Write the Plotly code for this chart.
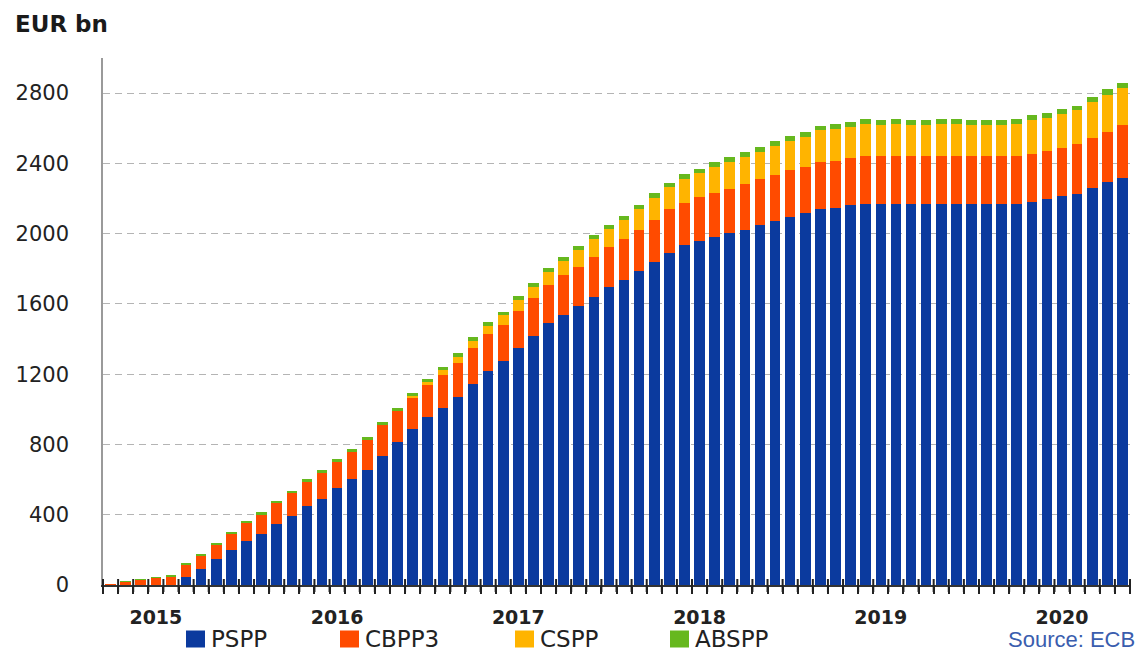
import plotly.graph_objects as go

# ---------------- data (EUR bn, end of month holdings) ----------------
months = [
    "Oct 2014", "Nov 2014", "Dec 2014",
    "Jan 2015", "Feb 2015", "Mar 2015", "Apr 2015", "May 2015", "Jun 2015",
    "Jul 2015", "Aug 2015", "Sep 2015", "Oct 2015", "Nov 2015", "Dec 2015",
    "Jan 2016", "Feb 2016", "Mar 2016", "Apr 2016", "May 2016", "Jun 2016",
    "Jul 2016", "Aug 2016", "Sep 2016", "Oct 2016", "Nov 2016", "Dec 2016",
    "Jan 2017", "Feb 2017", "Mar 2017", "Apr 2017", "May 2017", "Jun 2017",
    "Jul 2017", "Aug 2017", "Sep 2017", "Oct 2017", "Nov 2017", "Dec 2017",
    "Jan 2018", "Feb 2018", "Mar 2018", "Apr 2018", "May 2018", "Jun 2018",
    "Jul 2018", "Aug 2018", "Sep 2018", "Oct 2018", "Nov 2018", "Dec 2018",
    "Jan 2019", "Feb 2019", "Mar 2019", "Apr 2019", "May 2019", "Jun 2019",
    "Jul 2019", "Aug 2019", "Sep 2019", "Oct 2019", "Nov 2019", "Dec 2019",
    "Jan 2020", "Feb 2020", "Mar 2020", "Apr 2020", "May 2020",
]

pspp = [
    0, 0, 0,
    0, 0, 46, 90, 147, 200,
    250, 291, 345, 394, 450, 492,
    550, 602, 655, 732, 813, 886,
    958, 1008, 1072, 1147, 1220, 1276,
    1349, 1415, 1490, 1537, 1590, 1638,
    1695, 1739, 1787, 1838, 1891, 1937,
    1956, 1979, 2002, 2021, 2051, 2070,
    2097, 2120, 2143, 2148, 2163, 2168,
    2168, 2168, 2168, 2168, 2168, 2168,
    2168, 2168, 2168, 2168, 2181, 2195,
    2212, 2227, 2262, 2294, 2319,
]

cbpp3 = [
    2, 20, 30,
    40, 49, 70, 80, 81, 93,
    104, 113, 123, 129, 139, 145,
    149, 157, 168, 178, 175, 180,
    182, 187, 192, 205, 209, 205,
    210, 217, 215, 225, 223, 232,
    230, 232, 236, 240, 248, 240,
    250, 253, 251, 259, 259, 263,
    265, 261, 266, 267, 265, 275,
    275, 275, 275, 275, 275, 275,
    275, 275, 275, 275, 274, 274,
    273, 281, 284, 287, 298,
]

cspp = [
    0, 0, 0,
    0, 0, 0, 0, 0, 0,
    0, 0, 0, 0, 0, 0,
    0, 0, 0, 0, 0, 10,
    17, 27, 36, 38, 47, 56,
    62, 65, 76, 85, 94, 101,
    100, 107, 120, 127, 124, 137,
    140, 149, 156, 158, 157, 168,
    168, 171, 179, 183, 182, 182,
    176, 182, 176, 176, 182, 182,
    176, 176, 176, 180, 190, 191,
    198, 194, 205, 211, 214,
]

abspp = [
    0, 1, 2,
    3, 4, 4, 6, 6, 8,
    9, 11, 12, 14, 15, 15,
    16, 17, 17, 18, 18, 19,
    18, 18, 20, 20, 19, 19,
    22, 23, 23, 23, 23, 23,
    23, 23, 23, 25, 23, 23,
    23, 25, 25, 25, 24, 26,
    26, 27, 27, 27, 26, 27,
    27, 27, 27, 27, 27, 27,
    27, 27, 27, 27, 28, 28,
    28, 26, 28, 30, 28,
]

series_names = ["PSPP", "CBPP3", "CSPP", "ABSPP"]
series_values = [pspp, cbpp3, cspp, abspp]
series_colors = ["#0B3A9E", "#FF4B00", "#FFB400", "#66B81E"]

year_months = ["Jan 2015", "Jan 2016", "Jan 2017", "Jan 2018", "Jan 2019", "Jan 2020"]
year_labels = ["2015", "2016", "2017", "2018", "2019", "2020"]
y_ticks = [0, 400, 800, 1200, 1600, 2000, 2400, 2800]

# ---------------- figure geometry ----------------
W, H = 1142, 652
ML, MR, MT, MB = 103, 12, 58, 67
PW, PH = W - ML - MR, H - MT - MB
AXIS_Y = H - MB


def px_x(p):
    return (p - ML) / PW


def px_y(p):
    return (H - MB - p) / PH


x_idx = list(range(len(months)))
x_range = [-0.5, len(months) - 0.5]
boundaries = [i - 0.5 for i in range(len(months) + 1)]

fig = go.Figure()
for name, vals, col in zip(series_names, series_values, series_colors):
    fig.add_trace(go.Bar(
        x=x_idx, y=vals, name=name, marker=dict(color=col, line=dict(width=0)),
        showlegend=False, hovertext=months,
    ))

fig.update_layout(
    width=W, height=H,
    margin=dict(l=ML, r=MR, t=MT, b=MB),
    paper_bgcolor="white", plot_bgcolor="white",
    barmode="stack", bargap=0.3,
    font=dict(family="DejaVu Sans", color="#222222"),
    xaxis=dict(
        range=x_range,
        tickmode="array",
        tickvals=[months.index(m) for m in year_months],
        ticktext=["<b>%s</b>" % t for t in year_labels],
        ticks="", ticklabelstandoff=14,
        tickfont=dict(family="DejaVu Sans", size=19, color="#222222"),
        showline=True, linecolor="#333333", linewidth=2,
        showgrid=False, zeroline=False,
        minor=dict(tickmode="array", tickvals=boundaries, ticks="outside",
                   ticklen=7, tickcolor="#222222", tickwidth=2, showgrid=False),
    ),
    yaxis=dict(
        range=[0, 3000],
        tickmode="array", tickvals=y_ticks,
        ticks="", ticklabelstandoff=28,
        tickfont=dict(family="DejaVu Sans", size=21, color="#222222"),
        showline=True, linecolor="#9a9a9a", linewidth=1.5,
        showgrid=True, gridcolor="#b4b4b4", gridwidth=1, griddash="7px,5px",
        zeroline=False,
    ),
)

# cross-shaped month ticks at bar boundaries (paper coords from axis fraction)
shapes = []
for i in range(len(boundaries)):
    frac = i / len(months)
    shapes.append(dict(type="line", xref="paper", yref="paper", x0=frac, x1=frac,
                       y0=px_y(AXIS_Y + 7), y1=px_y(AXIS_Y - 6), layer="above",
                       line=dict(color="#222222", width=2)))

# legend (manual, bottom row)
annotations = []
legend_left_px = [186, 340, 515, 670]
sq_w, sq_h, leg_y = 19, 17, 639
for xpx, name, col in zip(legend_left_px, series_names, series_colors):
    shapes.append(dict(type="rect", xref="paper", yref="paper",
                       x0=px_x(xpx), x1=px_x(xpx + sq_w),
                       y0=px_y(leg_y + sq_h / 2), y1=px_y(leg_y - sq_h / 2),
                       fillcolor=col, line=dict(width=0)))
    annotations.append(dict(text=name, xref="paper", yref="paper",
                            x=px_x(xpx + sq_w + 4), y=px_y(leg_y),
                            xanchor="left", yanchor="middle", showarrow=False,
                            font=dict(family="DejaVu Sans", size=23, color="#222222")))

annotations.append(dict(text="<b>EUR bn</b>", xref="paper", yref="paper",
                        x=px_x(13), y=px_y(24), xanchor="left", yanchor="middle",
                        showarrow=False,
                        font=dict(family="DejaVu Sans", size=23, color="#1a1a1a")))
annotations.append(dict(text="Source: ECB", xref="paper", yref="paper",
                        x=px_x(1137), y=px_y(639), xanchor="right", yanchor="middle",
                        showarrow=False,
                        font=dict(family="Liberation Sans", size=22, color="#3A5DAE")))

fig.update_layout(shapes=shapes, annotations=annotations)

fig.write_html(
    "out.html",
    config={"displayModeBar": False},
    post_script="document.body.style.margin='0';document.body.style.overflow='hidden';",
)
